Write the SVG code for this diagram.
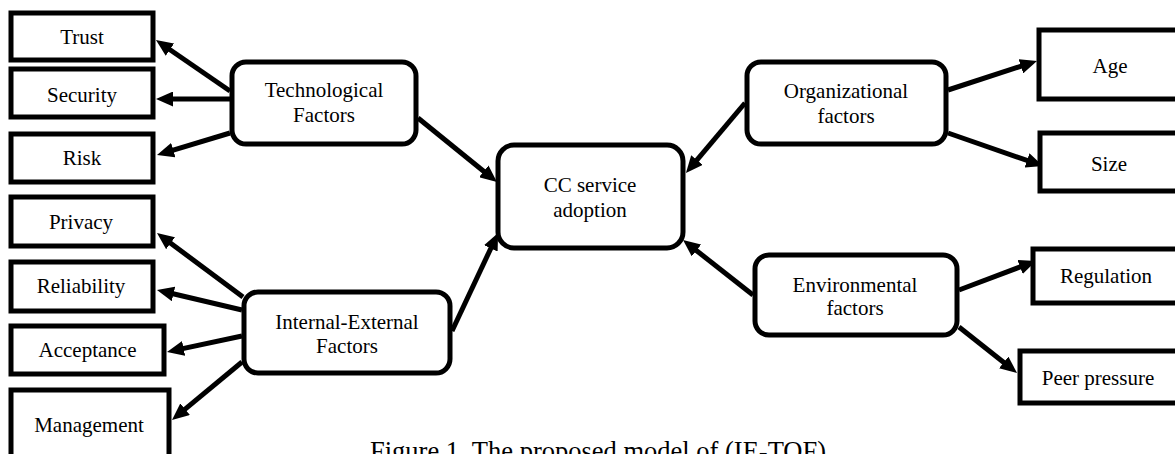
<svg xmlns="http://www.w3.org/2000/svg" width="1175" height="454" viewBox="0 0 1175 454">
<style>
.box{fill:#fff;stroke:#000;stroke-width:5}
.t{font-family:"Liberation Serif","Times New Roman",serif;font-size:21px;fill:#000;text-anchor:middle}
.cap{font-family:"Liberation Serif","Times New Roman",serif;font-size:26.5px;fill:#000}
.c{stroke:#000;stroke-width:5;fill:none;marker-end:url(#ah)}
</style>
<defs>
<marker id="ah" markerUnits="userSpaceOnUse" markerWidth="18" markerHeight="15" refX="7" refY="7.5" orient="auto">
<path d="M0,0 L17,7.5 L0,15 z" fill="#000"/>
</marker>
</defs>
<rect width="1175" height="454" fill="#fff"/>
<g id="connectors">
<path class="c" d="M230,91 L164.2,45.7"/>
<path class="c" d="M230,99 L166,99"/>
<path class="c" d="M230,133 L166.6,152.1"/>
<path class="c" d="M418,118 L489.2,175.7"/>
<path class="c" d="M452,331 L493.8,242"/>
<path class="c" d="M745,103 L692.4,165.4"/>
<path class="c" d="M753,295 L690.9,246.2"/>
<path class="c" d="M948,90 L1027.5,64.1"/>
<path class="c" d="M948,133 L1033.6,162.7"/>
<path class="c" d="M959,290 L1026.6,264.5"/>
<path class="c" d="M959,327 L1009.2,366.8"/>
<path class="c" d="M243,297 L165,239"/>
<path class="c" d="M242,310 L166.7,292.3"/>
<path class="c" d="M242,336 L176.8,349.9"/>
<path class="c" d="M242,362 L179.7,413.6"/>
</g>
<g id="trust"><rect class="box" x="11" y="13" width="142" height="47"/><text class="t" x="82" y="44">Trust</text></g>
<g id="security"><rect class="box" x="11" y="69" width="142" height="48"/><text class="t" x="82" y="102">Security</text></g>
<g id="risk"><rect class="box" x="11" y="134" width="142" height="48"/><text class="t" x="82" y="165">Risk</text></g>
<g id="privacy"><rect class="box" x="11" y="197" width="142" height="49"/><text class="t" x="81" y="229">Privacy</text></g>
<g id="reliability"><rect class="box" x="11" y="262" width="142" height="49"/><text class="t" x="81" y="293">Reliability</text></g>
<g id="acceptance"><rect class="box" x="11" y="326" width="153" height="48"/><text class="t" x="87.5" y="357">Acceptance</text></g>
<g id="management"><rect class="box" x="11" y="390" width="158" height="80"/><text class="t" x="89" y="432">Management</text></g>
<g id="technological"><rect class="box" x="232" y="62" width="184" height="82" rx="14"/><text class="t" x="324" y="97">Technological</text><text class="t" x="324" y="122">Factors</text></g>
<g id="internal-external"><rect class="box" x="244" y="292" width="206" height="81" rx="14"/><text class="t" x="347" y="329">Internal-External</text><text class="t" x="347" y="353">Factors</text></g>
<g id="cc-service"><rect class="box" x="498" y="145" width="185" height="103" rx="16"/><text class="t" x="590" y="192">CC service</text><text class="t" x="590" y="217">adoption</text></g>
<g id="organizational"><rect class="box" x="747" y="62" width="199" height="82" rx="14"/><text class="t" x="846" y="98">Organizational</text><text class="t" x="846" y="123">factors</text></g>
<g id="environmental"><rect class="box" x="755" y="255" width="202" height="80" rx="14"/><text class="t" x="855" y="292">Environmental</text><text class="t" x="855" y="315">factors</text></g>
<g id="age"><rect class="box" x="1039" y="30" width="150" height="69"/><text class="t" x="1110" y="73">Age</text></g>
<g id="size"><rect class="box" x="1040" y="133" width="150" height="58"/><text class="t" x="1109" y="171">Size</text></g>
<g id="regulation"><rect class="box" x="1033" y="249" width="150" height="54"/><text class="t" x="1106" y="283">Regulation</text></g>
<g id="peer-pressure"><rect class="box" x="1020" y="351" width="165" height="52"/><text class="t" x="1098" y="385">Peer pressure</text></g>
<text class="cap" x="370" y="460">Figure 1. The proposed model of (IE-TOF)</text>
</svg>
